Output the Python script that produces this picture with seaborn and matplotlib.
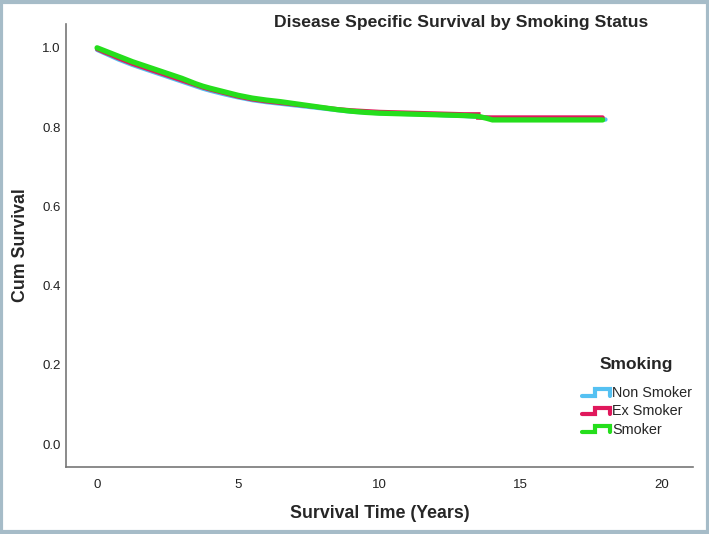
import pandas as pd
import seaborn as sns
import matplotlib.pyplot as plt
from matplotlib.lines import Line2D
from matplotlib.patches import Rectangle
from matplotlib.legend_handler import HandlerBase

# Kaplan-Meier curves (repeated time = visible step)
non_time = [0, 0.25, 0.5, 0.75, 1, 1.25, 1.5, 1.75, 2, 2.25, 2.5, 2.75, 3, 3.25, 3.5,
            3.75, 4, 4.5, 5, 5.5, 6, 6.5, 7, 7.5, 8, 8.5, 9, 9.5, 10, 11, 12, 12.5,
            13, 13.5, 14, 14.5, 18.0]
non_surv = [0.995, 0.987, 0.979, 0.971, 0.964, 0.957, 0.951, 0.945, 0.939, 0.933,
            0.927, 0.921, 0.915, 0.909, 0.903, 0.897, 0.892, 0.883, 0.875, 0.868,
            0.863, 0.859, 0.855, 0.851, 0.847, 0.843, 0.839, 0.837, 0.835, 0.833,
            0.831, 0.829, 0.828, 0.826, 0.822, 0.819, 0.819]

ex_time = [0, 0.25, 0.5, 0.75, 1, 1.25, 1.5, 1.75, 2, 2.25, 2.5, 2.75, 3, 3.25, 3.5,
           3.75, 4, 4.5, 5, 5.5, 6, 6.5, 7, 7.5, 8, 8.5, 9, 9.5, 10, 11, 12, 13,
           13.5, 13.5, 17.9]
ex_surv = [0.997, 0.989, 0.982, 0.974, 0.967, 0.960, 0.954, 0.948, 0.942, 0.936,
           0.930, 0.924, 0.918, 0.912, 0.906, 0.900, 0.895, 0.886, 0.877, 0.870,
           0.865, 0.861, 0.857, 0.853, 0.849, 0.845, 0.842, 0.840, 0.838, 0.836,
           0.834, 0.832, 0.832, 0.824, 0.824]

smk_time = [0, 0.25, 0.5, 0.75, 1, 1.25, 1.5, 1.75, 2, 2.25, 2.5, 2.75, 3, 3.25, 3.5,
            3.75, 4, 4.5, 5, 5.5, 6, 6.5, 7, 7.5, 8, 8.5, 9, 9.5, 10, 10.5, 11,
            11.5, 12, 12.5, 13, 13.5, 13.8, 14, 17.9]
smk_surv = [1.000, 0.993, 0.986, 0.979, 0.972, 0.965, 0.959, 0.953, 0.947, 0.941,
            0.935, 0.929, 0.923, 0.916, 0.909, 0.903, 0.898, 0.889, 0.880, 0.873,
            0.868, 0.864, 0.859, 0.854, 0.849, 0.844, 0.840, 0.837, 0.835, 0.834,
            0.833, 0.832, 0.831, 0.830, 0.829, 0.827, 0.822, 0.818, 0.818]

groups = ["Non Smoker", "Ex Smoker", "Smoker"]
colors = {"Non Smoker": "#55c1f2", "Ex Smoker": "#e0185c", "Smoker": "#25de1c"}
widths = {"Non Smoker": 3.2, "Ex Smoker": 3.2, "Smoker": 3.8}

frames = []
for name, t, s in [("Non Smoker", non_time, non_surv),
                   ("Ex Smoker", ex_time, ex_surv),
                   ("Smoker", smk_time, smk_surv)]:
    frames.append(pd.DataFrame({"time": t, "surv": s, "Smoking": name}))
df = pd.concat(frames, ignore_index=True)

sns.set_style("white")
plt.rcParams["font.family"] = ["Liberation Sans", "DejaVu Sans"]

fig = plt.figure(figsize=(7.09, 5.34), dpi=100)
ax = fig.add_axes([0.0931, 0.1255, 0.8843, 0.8295])

for g in groups:
    sns.lineplot(data=df[df["Smoking"] == g], x="time", y="surv", ax=ax,
                 color=colors[g], linewidth=widths[g], estimator=None, sort=False,
                 solid_joinstyle="miter", legend=False)

ax.set_xlim(-1.1, 21.1)
ax.set_ylim(-0.058, 1.06)
ax.set_xticks([0, 5, 10, 15, 20])
ax.set_yticks([0.0, 0.2, 0.4, 0.6, 0.8, 1.0])
ax.set_yticklabels(["0.0", "0.2", "0.4", "0.6", "0.8", "1.0"])
ax.tick_params(axis="both", length=0, labelsize=9.5, colors="#222222")
ax.tick_params(axis="x", pad=9)
ax.tick_params(axis="y", pad=4)
for side in ["top", "right"]:
    ax.spines[side].set_visible(False)
for side in ["left", "bottom"]:
    ax.spines[side].set_color("#777777")
    ax.spines[side].set_linewidth(1.2)

ax.set_xlabel("Survival Time (Years)", fontsize=12.8, fontweight="bold", labelpad=10)
ax.set_ylabel("Cum Survival", fontsize=12.8, fontweight="bold", labelpad=9)
fig.text(0.650, 0.958, "Disease Specific Survival by Smoking Status",
         ha="center", va="center", fontsize=12.6, fontweight="bold")


class StepHandler(HandlerBase):
    def create_artists(self, legend, orig, xdescent, ydescent, width, height,
                       fontsize, trans):
        x0, x1 = -xdescent, -xdescent + width
        yl, yh = -ydescent + height * 0.15, -ydescent + height * 0.75
        xs = [x0, x0 + width * 0.45, x0 + width * 0.45, x1, x1]
        ys = [yl, yl, yh, yh, yl]
        ln = Line2D(xs, ys, color=orig.get_color(), linewidth=3,
                    solid_joinstyle="miter", transform=trans)
        return [ln]


handles = [Line2D([], [], color=colors[g]) for g in groups]
leg = ax.legend(handles, groups, loc="lower right",
                bbox_to_anchor=(1.019, 0.039), frameon=False, fontsize=10.4,
                handler_map={Line2D: StepHandler()}, handlelength=1.9,
                handletextpad=0.15, labelspacing=0.3)
fig.text(636 / 709, 1 - 365 / 534, "Smoking", ha="center", va="center",
         fontsize=12.5, fontweight="bold")

fig.add_artist(Rectangle((0.002, 0.003), 0.996, 0.994, transform=fig.transFigure,
                         fill=False, edgecolor="#a6bcc8", linewidth=3))

fig.savefig("out.png", dpi=100)
